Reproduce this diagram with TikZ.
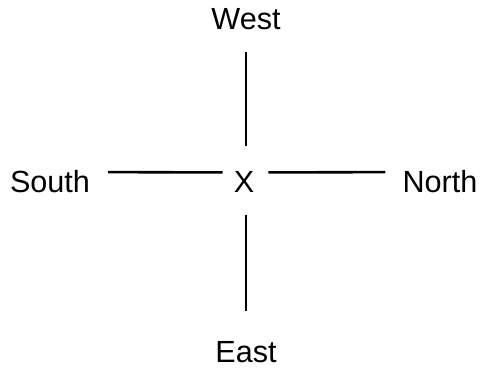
\documentclass[tikz,border=0pt]{standalone}
\usepackage{fontspec}
\setmainfont{Liberation Sans}
\begin{document}
\begin{tikzpicture}[x=1pt,y=1pt,
  lbl/.style={inner sep=0pt,anchor=base,font=\fontsize{30.6}{36}\selectfont},
  link/.style={line width=2.6pt}]
\useasboundingbox (0,0) rectangle (482,370);
\node[lbl] (X) at (244,178) {X};
\node[lbl] (W) at (246,340) {West};
\node[lbl] (E) at (246,8) {East};
\node[lbl] (S) at (50,178) {South};
\node[lbl] (N) at (440,178) {North};
\draw[link,shorten <=22pt,shorten >=25pt] (W.south) -- (W.south |- X.north);
\draw[link,shorten <=23pt,shorten >=30pt] (E.north |- X.south) -- (E.north);
\draw[link,shorten <=18pt,shorten >=11pt] ([yshift=9pt]S.east) -- ([yshift=9pt]X.west);
\draw[link,shorten <=14pt,shorten >=17pt] ([yshift=9pt]X.east) -- ([yshift=9pt]N.west);
\end{tikzpicture}
\end{document}
